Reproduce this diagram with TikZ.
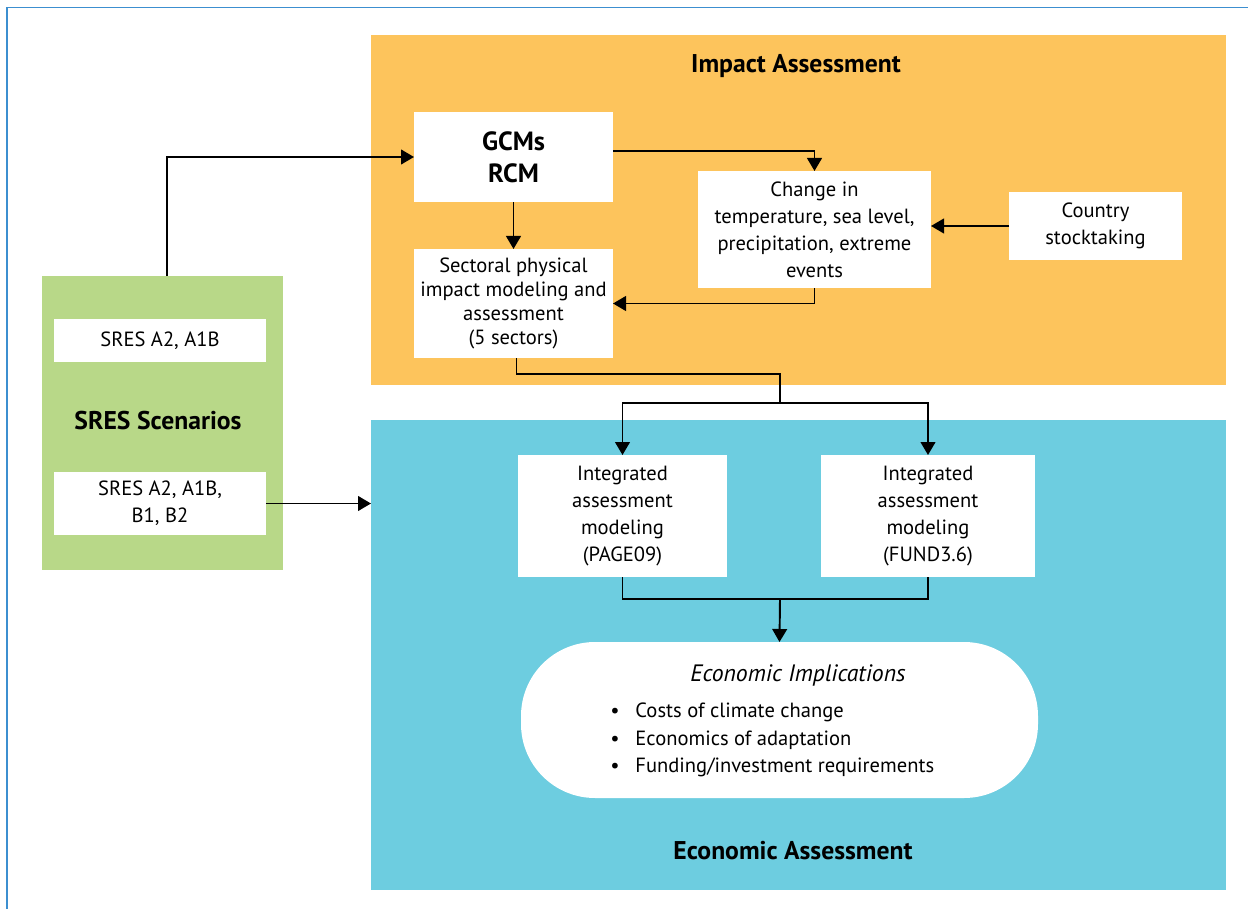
\documentclass[tikz,border=0pt]{standalone}
\usepackage{fontspec}
\setmainfont{PT Sans}
\usetikzlibrary{arrows.meta, positioning}
\definecolor{ImpactOrange}{HTML}{FDC45C}
\definecolor{EconomicBlue}{HTML}{6DCDE0}
\definecolor{ScenarioGreen}{HTML}{B8D888}
\definecolor{FrameBlue}{HTML}{3C8FD0}
\newlength\px
\setlength\px{0.02cm}
\tikzset{
    area/.style={inner sep=0pt, outer sep=0pt},
    whitebox/.style={fill=white, inner sep=0pt, outer sep=0pt, align=center,
        font=\fontsize{11.7}{15.3}\selectfont},
    areatitle/.style={font=\fontsize{14.6}{18}\selectfont\bfseries},
    link/.style={line width=1.1pt},
    flow/.style={link, -{Triangle[length=7.4pt, width=8.4pt]}}
}

\begin{document}
\begin{tikzpicture}[x=1\px, y=-1\px]

\useasboundingbox (0,0) rectangle (1248,909);

% Marco exterior.
\draw[FrameBlue, line width=0.9pt] (7,909) -- (7,7.5) -- (1248,7.5);

% Areas de fondo.
\node[area, fill=ImpactOrange, minimum width=855\px, minimum height=350\px] (impact) at (798.5,210) {};
\node[area, fill=EconomicBlue, minimum width=855\px, minimum height=470\px] (econ) at (798.5,655) {};
\node[area, fill=ScenarioGreen, minimum width=241\px, minimum height=294\px] (green) at (162.5,423) {};

\node[areatitle] (impacttitle) at (796,66) {Impact Assessment};
\node[areatitle] (econtitle) at (793,851) {Economic Assessment};
\node[areatitle] (greentitle) at (158,421) {SRES Scenarios};

% Escenarios.
\node[whitebox, minimum width=212\px, minimum height=43\px] (sresone) at (160,340.5) {SRES A2, A1B};
\node[whitebox, minimum width=212\px, minimum height=63\px] (srestwo) at (160,503.5) {SRES A2, A1B,\\B1, B2};

% Evaluacion de impacto.
\node[whitebox, minimum width=199\px, minimum height=90\px,
    font=\fontsize{15}{18}\selectfont\bfseries] (gcm) at (513.5,157) {GCMs\\RCM};
\node[whitebox, minimum width=199\px, minimum height=109\px,
    font=\fontsize{11.7}{13.6}\selectfont] (sectoral) at (513.5,303.5)
    {Sectoral physical\\impact modeling and\\assessment\\(5 sectors)};
\node[whitebox, minimum width=233\px, minimum height=117\px] (change) at (814.5,229.5)
    {Change in\\temperature, sea level,\\precipitation, extreme\\events};
\node[whitebox, minimum width=173\px, minimum height=68\px] (country) at (1095.5,226)
    {Country\\stocktaking};

% Evaluacion economica.
\node[whitebox, minimum width=209\px, minimum height=122\px] (page) at (622.5,516)
    {Integrated\\assessment\\modeling\\(PAGE09)};
\node[whitebox, minimum width=214\px, minimum height=122\px] (fund) at (928,516)
    {Integrated\\assessment\\modeling\\(FUND3.6)};
\node[whitebox, minimum width=517\px, minimum height=156\px, rounded corners=74\px]
    (implications) at (779.5,720) {};
\node[font=\fontsize{13.5}{15}\selectfont\itshape] (impltitle) at (798,675) {Economic Implications};
\node[anchor=north west, align=left, inner sep=0pt, font=\fontsize{11.7}{15.6}\selectfont]
    (impllist) at (610,703)
    {\textbullet\hspace{9pt}Costs of climate change\\
     \textbullet\hspace{9pt}Economics of adaptation\\
     \textbullet\hspace{9pt}Funding/investment requirements};

% Puntos de giro de los conectores.
\coordinate (bend) at (780,374);
\coordinate (split) at (780,403);
\coordinate (merge) at (780,599);

% Conectores.
\draw[flow] ([xshift=4.5\px]green.north) |- (gcm.west);
\draw[flow] (gcm.south) -- (sectoral.north);
\draw[flow] ([yshift=6\px]gcm.east) -| (change.north);
\draw[flow] (country.west) -- (country.west -| change.east);
\draw[flow] (change.south) |- (sectoral.east);
\draw[link] ([xshift=3\px]sectoral.south) |- (bend) -- (split);
\draw[flow] (split) -| (page.north);
\draw[flow] (split) -| (fund.north);
\draw[link] (page.south) |- (merge) -| (fund.south);
\draw[flow] (merge) -- (implications.north);
\draw[flow] (srestwo.east) -- (srestwo.east -| econ.west);

\end{tikzpicture}
\end{document}
